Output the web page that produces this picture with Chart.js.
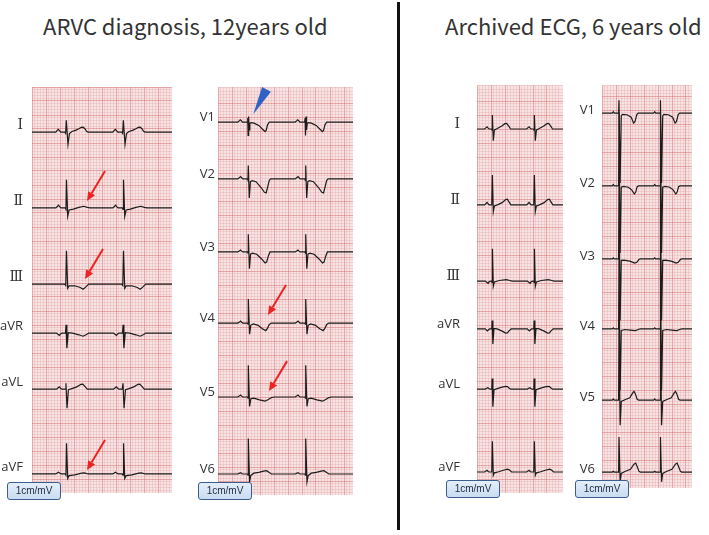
<!DOCTYPE html>
<html>
<head>
<meta charset="utf-8">
<script src="https://cdn.jsdelivr.net/npm/chart.js@4.4.1/dist/chart.umd.min.js"></script>
<style>
  body { margin: 0; width: 709px; height: 535px; position: relative; overflow: hidden; background: #fff; }
  .title { position: absolute; font-family: "Noto Sans CJK JP", "Noto Sans", sans-serif; font-size: 22px; line-height: 22px; color: #333; white-space: nowrap; }
  .divider { position: absolute; left: 397px; top: 2px; width: 3px; height: 528px; background: #111; }
  canvas { position: absolute; }
  .cal { position: absolute; width: 54px; height: 18px; box-sizing: border-box; border: 1.5px solid #3d5c8f; border-radius: 3px;
         background: linear-gradient(#e4eefa, #c9dcf1); font: 10px "Liberation Sans Narrow", "Liberation Sans", sans-serif; color: #1e2a44; text-align: center; line-height: 15px; }
</style>
</head>
<body>
<div class="title" style="left:43px; top:14px;">ARVC diagnosis, 12years old</div>
<div class="title" style="left:445px; top:14px;">Archived ECG, 6 years old</div>
<div class="divider"></div>

<script>
// lead names
const limbLeads = ['Ⅰ', 'Ⅱ', 'Ⅲ', 'aVR', 'aVL', 'aVF'];
const chestLeads = ['V1', 'V2', 'V3', 'V4', 'V5', 'V6'];

// R peak times, ms from the left edge of each strip
const rPeaks12Limb = [490, 1305];
const rPeaks12Chest = [433, 1253];
const rPeaks6Limb = [219, 819];
const rPeaks6Chest = [247, 839];

// baseline of each lead, mV above the bottom edge of the strip
const baselines12Limb = [12.89, 10.18, 7.46, 5.71, 3.71, 0.68];
const baselines12Chest = [13.32, 11.29, 8.68, 6.14, 3.50, 0.75];
const baselines6Limb = [13.0, 10.29, 7.57, 5.86, 3.71, 0.75];
const baselines6Chest = [13.39, 10.79, 8.18, 5.68, 3.14, 0.57];

// one beat per lead: [ms from R peak, mV]
const beats12Limb = [
  [[-150,0],[-130,0.06],[-115,0.1],[-100,0.06],[-80,0],[-20,0],[-10,-0.04],[0,0.42],[24,-0.44],[45,-0.05],[80,0.02],[130,0.06],[180,0.12],[215,0.17],[240,0.18],[265,0.12],[290,0.03],[310,0]],
  [[-150,0],[-125,0.06],[-110,0.1],[-95,0.05],[-75,0],[-15,0],[-5,-0.05],[2,1.01],[20,-0.3],[40,-0.07],[100,-0.04],[180,0.02],[250,0.06],[300,0.02],[340,0]],
  [[-20,0],[-8,-0.05],[2,1.19],[20,-0.15],[40,-0.06],[120,-0.06],[200,-0.12],[240,-0.18],[280,-0.1],[320,0]],
  [[-140,0],[-115,-0.05],[-100,-0.08],[-85,-0.04],[-65,0],[-12,0],[-4,0.3],[8,-0.54],[28,0.02],[90,0],[180,-0.06],[240,-0.11],[290,-0.05],[320,0]],
  [[-140,0],[-115,0.05],[-100,0.08],[-85,0.04],[-65,0],[-15,0],[-5,0.21],[10,-0.68],[30,-0.02],[80,0.02],[150,0.08],[210,0.17],[235,0.18],[265,0.1],[300,0]],
  [[-150,0],[-125,0.04],[-110,0.06],[-95,0.03],[-75,0],[-15,0],[-5,-0.04],[3,1.1],[20,-0.16],[40,-0.06],[120,-0.03],[220,0.03],[260,0.04],[310,0]],
];
const beats12Chest = [
  [[-150,0],[-125,0.05],[-115,0.08],[-100,0.05],[-85,0],[-15,0],[-8,0.14],[-3,-0.48],[5,0.2],[12,-0.28],[22,-0.05],[40,-0.02],[80,-0.04],[150,-0.12],[200,-0.25],[240,-0.34],[255,-0.3],[275,-0.1],[300,0]],
  [[-150,0],[-125,0.05],[-110,0.08],[-95,0.04],[-80,0],[-12,0],[-5,-0.05],[0,0.48],[14,-0.68],[30,-0.1],[55,-0.06],[110,-0.1],[180,-0.3],[230,-0.48],[255,-0.5],[275,-0.3],[300,-0.05],[320,0]],
  [[-150,0],[-125,0.04],[-110,0.07],[-95,0.03],[-80,0],[-12,0],[-4,-0.04],[0,0.63],[16,-0.6],[32,-0.08],[60,-0.04],[120,-0.08],[190,-0.25],[240,-0.39],[262,-0.36],[285,-0.15],[310,0]],
  [[-150,0],[-125,0.04],[-110,0.07],[-95,0.03],[-80,0],[-12,0],[-4,-0.04],[0,0.86],[18,-0.4],[35,-0.08],[70,-0.03],[140,-0.08],[200,-0.2],[250,-0.27],[275,-0.18],[300,-0.05],[330,0]],
  [[-150,0],[-125,0.04],[-110,0.07],[-95,0.03],[-80,0],[-12,0],[-4,-0.04],[0,1.13],[18,-0.34],[36,-0.06],[80,-0.04],[160,-0.1],[240,-0.15],[280,-0.1],[330,-0.02],[370,0]],
  [[-150,0],[-125,0.03],[-110,0.05],[-95,0.02],[-80,0],[-12,0],[-4,-0.04],[0,1.27],[18,-0.28],[36,-0.05],[80,0.03],[150,0.06],[220,0.1],[260,0.12],[300,0.05],[330,0]],
];
const beats6Limb = [
  [[-110,0],[-90,0.05],[-75,0.08],[-60,0.03],[-45,0],[-10,0],[-4,-0.04],[0,0.5],[14,-0.42],[30,-0.03],[70,0.02],[130,0.1],[180,0.19],[205,0.2],[235,0.1],[260,0]],
  [[-110,0],[-90,0.05],[-75,0.09],[-60,0.04],[-45,0],[-8,0],[0,1.07],[14,-0.24],[30,-0.04],[80,0.01],[140,0.08],[190,0.19],[215,0.2],[240,0.1],[265,0]],
  [[-100,0],[-80,-0.04],[-60,-0.08],[-45,-0.02],[-10,0],[-4,-0.05],[1,1.15],[14,-0.19],[30,-0.03],[100,0.02],[200,0.05],[250,0.02],[280,0]],
  [[-100,0],[-85,-0.04],[-70,-0.07],[-55,-0.03],[-40,0],[-8,0],[-3,0.3],[8,-0.54],[24,0.02],[70,0],[140,-0.08],[190,-0.15],[215,-0.14],[245,-0.05],[270,0]],
  [[-100,0],[-80,0.03],[-65,0.05],[-50,0.02],[-35,0],[-8,0],[-3,0.38],[8,-0.63],[24,-0.02],[70,0.02],[140,0.07],[190,0.1],[215,0.09],[245,0.02],[265,0]],
  [[-110,0],[-90,0.04],[-75,0.06],[-60,0.02],[-45,0],[-8,0],[0,1.1],[14,-0.12],[30,-0.03],[90,0.01],[170,0.07],[220,0.1],[245,0.07],[275,0]],
];
const beats6Chest = [
  [[-100,0],[-86,0.05],[-72,0],[-10,0],[-4,0.46],[12,-2.5],[28,-0.1],[45,-0.05],[110,-0.06],[170,-0.15],[205,-0.36],[225,-0.3],[250,-0.05],[270,0]],
  [[-100,0],[-86,0.05],[-72,0],[-10,0],[-4,2.6],[12,-2.4],[28,-0.05],[60,-0.02],[130,-0.05],[180,-0.15],[215,-0.29],[235,-0.22],[255,-0.03],[275,0]],
  [[-100,0],[-86,0.04],[-72,0],[-10,0],[-4,2.6],[12,-2.2],[28,-0.05],[70,-0.04],[150,-0.08],[220,-0.15],[250,-0.12],[280,-0.02],[300,0]],
  [[-100,0],[-86,0.04],[-72,0],[-10,0],[-4,2.5],[12,-2.2],[28,-0.05],[80,-0.02],[160,-0.04],[230,-0.06],[270,-0.02],[300,0]],
  [[-100,0],[-86,0.04],[-72,0],[-10,0],[-4,2.6],[12,-0.9],[28,-0.05],[80,0.01],[150,0.08],[190,0.25],[210,0.31],[230,0.22],[255,0.03],[275,0]],
  [[-100,0],[-86,0.03],[-72,0],[-10,0],[-4,1.25],[12,-0.35],[28,-0.05],[80,0.02],[160,0.1],[210,0.28],[235,0.32],[255,0.2],[280,0.03],[300,0]],
];

// markers: [lead index, ms, mV above baseline]
const redArrows12Limb = [[1, 786, 0.25], [2, 757, 0.18], [5, 786, 0.14]];
const redArrows12Chest = [[3, 714, 0.29], [4, 729, 0.21]];
const blueHeads12Chest = [[0, 504, 0.28]];

const PX_PER_MM = 2.8;   // paper scale in the picture
const MS_PER_MM = 40;    // 25 mm/s
const MM_PER_MV = 10;    // 1 cm/mV

const PAPER = 'rgb(247,227,227)';
const MINOR = 'rgba(226,165,165,0.35)';
const MAJOR = 'rgba(210,110,110,0.5)';
const INK = '#1c1c1c';

const gridColor = n => (Math.round(n) % 5 === 0 ? MAJOR : MINOR);

function buildTrace(beat, peaks, base, xMax) {
  const pts = [{ x: 0, y: base }];
  peaks.forEach(t => {
    beat.forEach(([dt, v]) => {
      const x = t + dt;
      if (x > 0 && x < xMax) pts.push({ x: x, y: base + v });
    });
  });
  pts.push({ x: xMax, y: base });
  return pts;
}

function redArrow(ctx, x, y) {
  const dx = 18, dy = -30;
  const len = Math.hypot(dx, dy);
  const ux = dx / len, uy = dy / len;
  const head = 9, half = 4;
  ctx.strokeStyle = '#ec2320';
  ctx.fillStyle = '#ec2320';
  ctx.lineWidth = 2;
  ctx.beginPath();
  ctx.moveTo(x + dx, y + dy);
  ctx.lineTo(x + ux * head, y + uy * head);
  ctx.stroke();
  ctx.beginPath();
  ctx.moveTo(x, y);
  ctx.lineTo(x + ux * head - uy * half, y + uy * head + ux * half);
  ctx.lineTo(x + ux * head + uy * half, y + uy * head - ux * half);
  ctx.closePath();
  ctx.fill();
}

function blueHead(ctx, x, y) {
  const dx = 13.2, dy = -24.8;
  const len = Math.hypot(dx, dy);
  const ux = dx / len, uy = dy / len;
  const half = 5;
  ctx.fillStyle = '#2f62c4';
  ctx.beginPath();
  ctx.moveTo(x, y);
  ctx.lineTo(x + dx - uy * half, y + dy + ux * half);
  ctx.lineTo(x + dx + uy * half, y + dy - ux * half);
  ctx.closePath();
  ctx.fill();
}

const paperPlugin = {
  id: 'paper',
  beforeDraw(chart) {
    const { ctx, chartArea: a } = chart;
    ctx.save();
    ctx.fillStyle = PAPER;
    ctx.fillRect(a.left, a.top, a.width, a.height);
    ctx.restore();
  },
};

function drawStrip(s) {
  const canvas = document.createElement('canvas');
  canvas.width = s.labelWidth + s.width;
  canvas.height = s.height;
  canvas.style.left = (s.left - s.labelWidth) + 'px';
  canvas.style.top = s.top + 'px';
  document.body.appendChild(canvas);

  const xMax = s.width / PX_PER_MM * MS_PER_MM;
  const yMax = s.height / PX_PER_MM / MM_PER_MV;

  const datasets = s.leads.map((name, i) => ({
    label: name,
    data: buildTrace(s.beats[i], s.peaks, s.baselines[i], xMax),
    borderColor: INK,
    borderWidth: 1.2,
    pointRadius: 0,
    tension: 0,
    yAxisID: 'y',
  }));

  const marks = {
    id: 'marks',
    afterDatasetsDraw(chart) {
      const { ctx, scales } = chart;
      ctx.save();
      (s.redArrows || []).forEach(([lead, t, v]) => {
        redArrow(ctx, scales.x.getPixelForValue(t), scales.y.getPixelForValue(s.baselines[lead] + v));
      });
      (s.blueHeads || []).forEach(([lead, t, v]) => {
        blueHead(ctx, scales.x.getPixelForValue(t), scales.y.getPixelForValue(s.baselines[lead] + v));
      });
      ctx.restore();
    },
  };

  new Chart(canvas, {
    type: 'line',
    data: { datasets },
    options: {
      responsive: false,
      animation: false,
      events: [],
      layout: { padding: 0, autoPadding: false },
      plugins: { legend: { display: false }, tooltip: { enabled: false } },
      scales: {
        x: {
          type: 'linear',
          position: 'bottom',
          min: 0,
          max: xMax,
          border: { display: false },
          grid: { color: ctx => gridColor(ctx.tick.value / MS_PER_MM), drawTicks: false },
          ticks: { display: false, stepSize: MS_PER_MM, autoSkip: false },
          afterFit: a => { a.height = 0; },
        },
        y: {
          type: 'linear',
          position: 'right',
          min: 0,
          max: yMax,
          border: { display: false },
          grid: { color: ctx => gridColor(ctx.tick.value * MM_PER_MV), drawTicks: false },
          ticks: { display: false, stepSize: 1 / MM_PER_MV, autoSkip: false },
          afterFit: a => { a.width = 0; },
        },
        lab: {
          type: 'linear',
          position: 'left',
          min: 0,
          max: yMax,
          border: { display: false },
          grid: { display: false, drawTicks: false, tickLength: 0 },
          afterBuildTicks: a => { a.ticks = s.baselines.map(v => ({ value: v })); },
          ticks: {
            autoSkip: false,
            padding: s.labelPad,
            labelOffset: s.labelShift,
            color: '#333',
            font: ctx => (/^[ⅠⅡⅢ]/.test(s.leads[ctx.index])
              ? { family: 'DejaVu Serif, Liberation Serif, serif', size: 14 }
              : { family: 'Open Sans, Noto Sans, sans-serif', size: 13 }),
            callback: (v, i) => s.leads[i],
          },
          afterFit: a => { a.width = s.labelWidth; a.paddingTop = 0; a.paddingBottom = 0; },
        },
      },
    },
    plugins: [paperPlugin, marks],
  });

  const cal = document.createElement('div');
  cal.className = 'cal';
  cal.textContent = '1cm/mV';
  cal.style.left = s.cal[0] + 'px';
  cal.style.top = s.cal[1] + 'px';
  document.body.appendChild(cal);
}

drawStrip({ leads: limbLeads, peaks: rPeaks12Limb, baselines: baselines12Limb, beats: beats12Limb,
  redArrows: redArrows12Limb,
  left: 32, top: 87, width: 140, height: 406, labelWidth: 32, labelPad: 9, labelShift: -7, cal: [7, 482] });
drawStrip({ leads: chestLeads, peaks: rPeaks12Chest, baselines: baselines12Chest, beats: beats12Chest,
  redArrows: redArrows12Chest, blueHeads: blueHeads12Chest,
  left: 218, top: 87, width: 135, height: 408, labelWidth: 24, labelPad: 3, labelShift: -5, cal: [198, 482] });
drawStrip({ leads: limbLeads, peaks: rPeaks6Limb, baselines: baselines6Limb, beats: beats6Limb,
  left: 477, top: 85, width: 86, height: 408, labelWidth: 42, labelPad: 17, labelShift: -5, cal: [446, 480] });
drawStrip({ leads: chestLeads, peaks: rPeaks6Chest, baselines: baselines6Chest, beats: beats6Chest,
  left: 602, top: 85, width: 90, height: 403, labelWidth: 26, labelPad: 7, labelShift: -3, cal: [575, 480] });
</script>
</body>
</html>
